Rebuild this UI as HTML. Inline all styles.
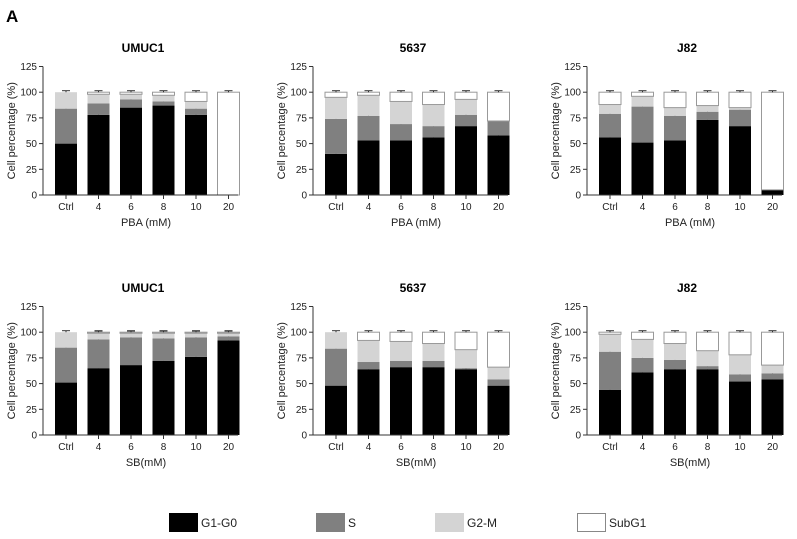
<!DOCTYPE html>
<html><head><meta charset="utf-8"><style>
body{margin:0;background:#fff;}
svg{display:block;font-family:"Liberation Sans",Arial,sans-serif;}
</style></head><body>
<svg id="fig" width="797" height="539" viewBox="0 0 797 539">
<text x="6" y="22" font-size="17" font-weight="bold">A</text>
</svg>
<script>
const categories = ["Ctrl","4","6","8","10","20"];
const yTicks = [0,25,50,75,100,125];
const titles = ["UMUC1","5637","J82","UMUC1","5637","J82"];
const xTitles = ["PBA (mM)","PBA (mM)","PBA (mM)","SB(mM)","SB(mM)","SB(mM)"];
const g1Values = [
  [50,78,85,87,78,0],[40,53,53,56,67,58],[56,51,53,73,67,5],
  [51,65,68,72,76,92],[48,64,66,66,64,48],[44,61,64,64,52,54]];
const sValues = [
  [34,11,8,4,6,0],[34,24,16,11,11,14],[23,35,24,8,16,0],
  [34,28,27,22,19,4],[36,7,6,6,1,6],[37,14,9,3,7,6]];
const g2mValues = [
  [16,9,5,6,7,0],[21,20,22,21,15,0],[9,10,8,6,2,0],
  [15,6,4,5,4,3],[16,21,19,17,18,12],[17,18,16,15,19,8]];
const legendLabels = ["G1-G0","S","G2-M","SubG1"];
const colors = ["#000","#808080","#d4d4d4","#fff"];

const NS="http://www.w3.org/2000/svg";
const svg=document.getElementById("fig");
function mk(tag,attrs,parent){const e=document.createElementNS(NS,tag);for(const k in attrs)e.setAttribute(k,attrs[k]);(parent||svg).appendChild(e);return e;}
const colX=[43,313,587], rowY=[195,435];
for(let p=0;p<6;p++){
  const ax=colX[p%3], y0=rowY[Math.floor(p/3)];
  const g=mk("g",{});
  
  
  const yS=v=>y0-v*(128.5/125);
  const xS=i=>ax+23+i*32.5;
  const t=mk("text",{x:ax+100,y:y0-143,"font-size":12,"font-weight":"bold","text-anchor":"middle"},g);t.textContent=titles[p];
  
  // bars
  for(let i=0;i<categories.length;i++){
    const segs=[g1Values[p][i],sValues[p][i],g2mValues[p][i]];
    segs.push(Math.max(0,100-segs[0]-segs[1]-segs[2]));
    let acc=0;
    for(let s=0;s<4;s++){
      const v=segs[s]; if(v<=0){continue;}
      const r=mk("rect",{x:xS(i)-11,y:yS(acc+v),width:22,height:yS(acc)-yS(acc+v),fill:colors[s],stroke:s==3?"#999":"none","stroke-width":1},g);
      
      
      acc+=v;
      const ey=yS(acc)-1.5;
      mk("line",{x1:xS(i),x2:xS(i),y1:yS(acc),y2:ey,stroke:"#333","stroke-width":1},g);
      mk("line",{x1:xS(i)-4,x2:xS(i)+4,y1:ey,y2:ey,stroke:"#333","stroke-width":1},g);
    }
  }
  // axes
  const ya=mk("line",{x1:ax,x2:ax,y1:yS(125),y2:y0,stroke:"#333","stroke-width":1},g);
  
  const xa=mk("line",{x1:ax,x2:ax+195,y1:y0,y2:y0,stroke:"#333","stroke-width":1},g);
  
  yTicks.forEach(v=>{
    mk("line",{x1:ax-4,x2:ax,y1:yS(v),y2:yS(v),stroke:"#333"},g);
    const tl=mk("text",{x:ax-6,y:yS(v)+3.5,"font-size":10,"text-anchor":"end",fill:"#222"},g);tl.textContent=v;
    
  });
  categories.forEach((c,i)=>{
    mk("line",{x1:xS(i),x2:xS(i),y1:y0,y2:y0+4,stroke:"#333"},g);
    const tl=mk("text",{x:xS(i),y:y0+15,"font-size":10,"text-anchor":"middle",fill:"#222"},g);tl.textContent=c;
    
  });
  const xt=mk("text",{x:ax+103,y:y0+31,"font-size":11,"text-anchor":"middle",fill:"#222"},g);xt.textContent=xTitles[p];
  
  const yt=mk("text",{x:0,y:0,"font-size":11,"text-anchor":"middle",fill:"#222",transform:`translate(${ax-28},${yS(62.5)}) rotate(-90)`},g);yt.textContent="Cell percentage (%)";
  
}
// legend
const lx=[169,316,435,577];
legendLabels.forEach((l,i)=>{
  const g=mk("g",{});
  
  
  mk("rect",{x:lx[i]+0.5,y:513.5,width:28,height:18,fill:colors[i],stroke:i==0?"#000":(i==3?"#888":colors[i]),"stroke-width":1},g);
  const t=mk("text",{x:lx[i]+32,y:527,"font-size":12,fill:"#222"},g);t.textContent=l;
});
</script>
</body></html>
